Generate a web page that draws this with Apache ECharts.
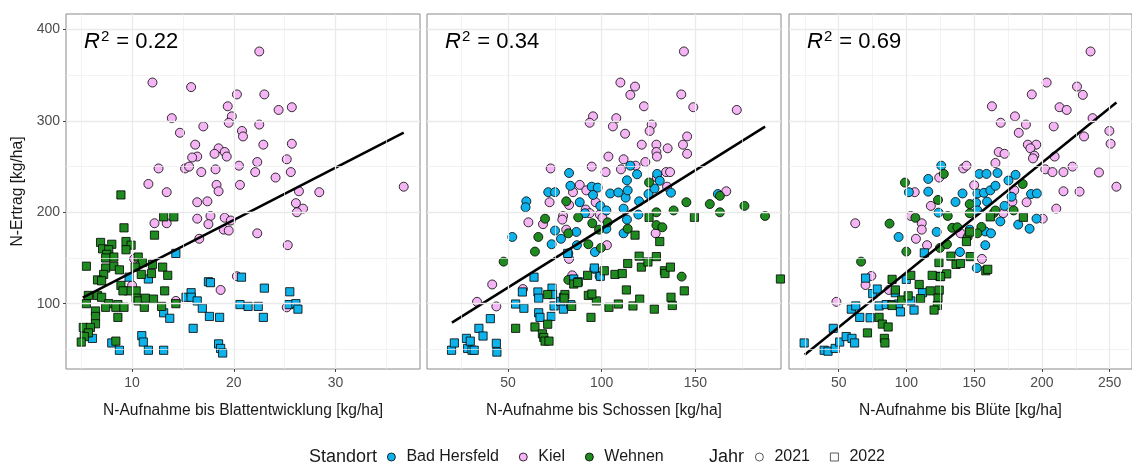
<!DOCTYPE html>
<html>
<head>
<meta charset="utf-8">
<script src="https://cdn.jsdelivr.net/npm/echarts/dist/echarts.min.js"></script>
<style>html,body{margin:0;padding:0;background:#fff;}#c{width:1132px;height:464px;}</style>
</head>
<body>
<div id="c"></div>
<script>
// ---------------- DATA ----------------
const panelTitles = ['N-Aufnahme bis Blattentwicklung [kg/ha]', 'N-Aufnahme bis Schossen [kg/ha]', 'N-Aufnahme bis Blüte [kg/ha]'];
const yTitle = 'N-Ertrag [kg/ha]';
const r2Labels = ['0.22', '0.34', '0.69'];
const sites = ['Bad Hersfeld', 'Kiel', 'Wehnen'];
const years = ['2021', '2022'];
const xTicks = [[10, 20, 30], [50, 100, 150], [50, 100, 150, 200, 250]];
const xMinor = [[5, 15, 25, 35], [25, 75, 125, 175], [25, 75, 125, 175, 225]];
const yTicks = [100, 200, 300, 400];
const yMinor = [50, 150, 250, 350];

// Panel 1: N-Aufnahme bis Blattentwicklung
const p1_kiel_2021 = [[22.5,376],[12.0,342],[15.8,337],[20.3,329],[23.0,329],[19.4,316],[25.7,315],[24.4,312],[13.9,303],[19.8,305],[19.5,298],[22.5,296],[17.0,294],[20.8,289],[20.9,283],[14.7,287],[16.2,274],[22.9,274],[25.7,275],[18.5,270],[18.1,264],[19.1,266],[19.3,261],[16.4,261],[15.9,260],[15.2,248],[15.6,250],[16.8,244],[12.6,248],[18.2,247],[20.5,251],[22.3,255],[22.1,244],[25.2,258],[25.6,244],[24.1,238],[11.6,231],[13.4,222],[18.3,230],[18.5,223],[20.6,230],[26.4,223],[28.4,222],[36.7,228],[16.4,211],[17.4,212],[26.1,210],[26.8,204],[26.2,200],[17.7,196],[19.1,194],[19.7,191],[16.4,193],[12.2,188],[13.4,188],[17.5,187],[19.0,181],[19.5,180],[22.3,177],[16.6,171],[25.3,164],[10.2,149],[10.0,120],[20.3,130],[18.7,115],[25.2,96],[14.3,103]];
const p1_bh_2022 = [[14.3,155],[9.7,129],[11.6,127],[17.5,124],[17.7,123],[20.75,129],[23.0,117],[25.5,113],[15.3,107],[15.8,112],[15.8,107],[16.4,103],[16.9,95],[20.6,99],[21.4,97],[22.4,97],[22.9,85],[25.4,99],[26.1,100],[26.3,94],[13.1,90],[13.7,84],[17.6,86],[18.6,85],[16.0,73],[6.1,62],[8.0,57],[8.75,49],[10.95,65],[11.1,58],[11.6,49],[13.1,49],[18.5,56],[18.7,51],[18.9,46]];
const p1_we_2022 = [[8.9,219],[13.1,195],[14.1,195],[9.2,183],[12.2,175],[6.9,167],[8.0,165],[9.4,168],[9.9,164],[7.1,160],[7.7,159],[9.4,159],[7.5,154],[8.2,151],[7.4,150],[10.6,151],[11.0,145],[5.5,141],[7.4,139],[8.2,141],[8.75,137],[10.3,140],[12.0,143],[13.0,140],[7.2,132],[6.6,126],[7.0,125],[10.9,132],[11.9,133],[13.5,131],[8.9,120],[9.6,114],[9.1,114],[10.4,114],[13.2,114],[5.7,109],[6.6,109],[7.0,107],[5.5,100],[7.7,100],[8.6,99],[7.4,96],[8.4,96],[9.2,96],[10.4,106],[10.6,103],[11.3,106],[11.2,96],[12.1,105],[12.9,97],[14.3,100],[6.4,92],[6.4,86],[8.6,85],[6.4,78],[5.2,74],[5.9,74],[5.7,68],[5.3,64],[5.0,58],[8.4,59]];

// Panel 2: N-Aufnahme bis Schossen
const p2_kiel_2021 = [[143.9,376],[110.0,342],[117.8,337.6],[115.3,328.5],[142.5,329],[122.6,316],[148.9,315],[172.1,312],[95.4,305],[93.6,298],[107.8,303],[106.0,294],[126.7,296],[125.6,289],[112.5,286],[145.6,283],[121.4,274],[129.2,274],[143.4,274],[135.2,270],[129.2,266],[129.5,261],[145.6,264],[103.6,261],[111.7,258],[123.3,255],[72.8,248],[94.7,250],[102.1,244],[110.3,247],[134.4,244],[136.5,244],[118.1,251],[129.5,238],[134.9,228],[166.5,223],[72.2,211],[60.9,189],[68.7,187],[79.4,196],[79.0,192],[82.6,208],[84.7,222],[88.3,230],[91.8,224],[96.8,211],[91.5,203],[93.6,199],[99.0,197.5],[100.4,194],[81.1,181],[82.6,149],[128.8,177],[102.8,164],[84.3,131],[58.0,116],[41.6,121],[33.5,102],[43.8,97]];
const p2_bh_2021 = [[82.6,243],[83.3,229],[71.5,222],[75.1,222],[59.8,212],[59.4,205.5],[52.3,173],[75.1,180],[73.3,165],[78.3,171],[86.5,178.5],[88.3,211],[91.1,199],[94.7,228],[95.4,219],[97.9,227],[99.3,207],[102.5,202],[102.5,182],[96.4,156.5],[86.8,164],[104.6,220.6],[108.9,221.7],[112.8,216],[113.9,224],[111.7,204],[113.5,192],[111.7,177],[113.5,235],[115.3,251],[118.9,241.6],[119.6,197.5],[120.0,212],[125.0,220],[128.2,226],[129.6,242],[131.0,234.5],[137.0,221.5],[162.0,220],[96.1,138],[98.9,130],[82.2,155]];
const p2_we_2021 = [[47.7,146],[64.4,157],[66.2,173],[69.8,193],[81.1,212],[82.2,177],[87.5,194.5],[92.9,165],[95.0,188],[98.6,181],[99.6,161],[103.2,189],[113.9,182],[125.3,232.6],[129.2,200],[129.2,186],[132.4,183.6],[138.4,202],[145.2,211],[157.7,209],[163.1,218],[163.1,200],[176.2,207],[187.2,196],[142.7,129.6],[82.2,126]];
const p2_bh_2022 = [[19.9,49],[21.4,57],[27.8,62],[28.5,51],[30.8,49],[32.0,49],[29.9,59],[34.5,73],[36.7,64.6],[40.6,83.6],[43.8,56.6],[44.1,47],[54.1,99.6],[57.7,112.8],[58.5,95],[63.9,129],[66.0,112.8],[66.4,106],[66.4,90],[67.1,85],[73.5,117],[73.8,110],[73.1,86],[74.6,97.5],[78.1,102.5],[79.6,107],[79.6,94],[83.5,99],[85.1,127],[81.9,155],[87.5,124],[99.3,130],[96.1,139]];
const p2_we_2022 = [[54.1,73],[64.4,74.5],[68.4,67],[69.1,63],[69.8,59],[71.9,59],[71.2,77.5],[71.2,110],[80.4,110],[84.0,97],[85.1,121.5],[87.2,123],[92.9,109],[97.2,103],[94.3,85],[92.5,131],[101.4,136],[107.1,132],[111.0,133],[103.9,96],[108.9,99.6],[113.2,115],[116.7,97.5],[120.3,105],[128.1,94],[137.0,107],[137.7,98],[144.1,114],[113.9,144],[120.0,152],[121.2,140],[124.7,145.6],[129.2,151.5],[133.5,136],[133.8,133],[136.7,140],[117.8,175],[125.3,194.5],[131.0,168],[149.5,194.5],[195.4,127],[80.0,106],[94.8,110.6]];

// Panel 3: N-Aufnahme bis Blüte
const p3_kiel_2021 = [[235.9,376],[203.5,342],[225.9,337.6],[230.2,328.5],[192.5,329],[163.1,316],[213.0,315],[218.3,312],[180.1,305],[169.6,298],[188.2,296],[208.7,294],[182.9,287],[237.4,303],[231.1,283],[249.8,289],[250.7,275],[189.6,274],[195.8,274],[191.5,270],[194.4,262],[193.4,259],[209.4,261],[168.1,266],[172.4,264],[165.7,254],[141.9,248],[144.3,251],[124.2,238],[202.5,247],[207.8,244],[215.9,244],[222.6,250],[242.1,243.6],[255.0,228],[215.9,223],[227.8,222.6],[106.1,222],[150.0,229.6],[179.6,224],[178.2,211.6],[188.7,211],[210.6,204],[200.6,193],[171.5,199],[103.2,196],[118.0,207],[111.3,188],[111.3,181],[107.0,171],[115.2,164],[140.0,177],[155.7,149],[62.2,188],[74.1,130.3],[69.8,120.4],[87.0,115],[48.3,102]];
const p3_bh_2021 = [[125.7,251],[116.1,236.5],[101.8,222],[116.1,222.6],[136.2,211.3],[123.7,199.6],[122.3,178.5],[94.2,173],[139.5,156.5],[141.4,220.6],[153.8,242],[159.1,242],[167.2,243],[152.4,220.6],[157.2,221.3],[161.9,224],[165.7,229],[175.3,234.8],[180.5,241],[172.4,207],[177.6,217],[192.0,220],[196.3,220.6],[151.4,210.4],[159.5,211.7],[152.4,202],[169.3,190],[182.5,186.5],[196.0,193],[190.9,182],[146.7,181],[158.2,179],[162.4,177],[158.2,164],[151.9,139]];
const p3_we_2021 = [[98.9,232.5],[127.6,242],[106.6,194],[87.5,187.6],[66.5,146],[99.9,157],[123.3,213.5],[130.5,196],[133.8,183],[124.7,161],[129.9,165],[146.7,209],[146.7,199],[155.3,184],[164.3,199],[165.7,202],[179.1,202],[185.8,231],[152.4,177],[145.2,173],[137.6,183.6]];
const p3_bh_2022 = [[24.5,57],[46.0,73],[39.3,49],[42.1,48],[47.4,51],[50.7,58],[55.5,64],[59.8,62],[61.7,57],[59.3,94],[62.6,97.5],[65.5,85],[73.2,84.6],[69.8,128],[75.1,111],[78.4,116],[79.8,97.5],[85.1,99],[89.4,99],[94.2,99.6],[91.8,112],[95.6,91],[99.9,126.6],[103.2,103],[105.6,93],[111.8,112],[113.2,155.6],[124.7,130]];
const p3_we_2022 = [[186.3,194.5],[161.9,195],[144.3,168],[146.7,178.5],[132.8,152],[136.6,143],[139.9,144],[147.1,151.5],[124.0,145],[129.7,132.6],[119.0,131],[125.2,129.6],[158.6,136],[160.0,137.6],[103.2,131],[109.4,121],[117.5,114],[110.4,105.5],[124.2,114.8],[123.3,106],[122.8,98],[120.4,93],[89.4,126.6],[91.8,115],[96.5,104],[101.3,108.6],[89.4,98],[79.8,85],[71.2,68],[82.2,77.6],[83.7,62],[84.1,57],[86.5,74.5]];

// regression line end points (fitted lines)
const fit1 = [[5.15,106.6],[36.7,287.2]];
const fit2 = [[20.1,79.2],[187.2,293.8]];
const fit3 = [[24.9,44.2],[255.0,320.1]];

const xRanges = [[3.5, 38.3], [6.8, 195.7], [13.3, 266.5]];
const yRange = [28.5, 417];

// ---------------- STYLE ----------------
const FONT = '"Liberation Sans", Arial, sans-serif';
const colors = {'Bad Hersfeld': '#0EB3EB', 'Kiel': '#F5B5F5', 'Wehnen': '#1F8A1F'};
const panelLeft = [66, 427, 789];
const panelW = 354, panelTop = 14, panelH = 355;

const panels = [
  {groups: [['Kiel','2021',p1_kiel_2021],['Bad Hersfeld','2022',p1_bh_2022],['Wehnen','2022',p1_we_2022]], fit: fit1},
  {groups: [['Kiel','2021',p2_kiel_2021],['Bad Hersfeld','2021',p2_bh_2021],['Wehnen','2021',p2_we_2021],['Bad Hersfeld','2022',p2_bh_2022],['Wehnen','2022',p2_we_2022]], fit: fit2},
  {groups: [['Kiel','2021',p3_kiel_2021],['Bad Hersfeld','2021',p3_bh_2021],['Wehnen','2021',p3_we_2021],['Bad Hersfeld','2022',p3_bh_2022],['Wehnen','2022',p3_we_2022]], fit: fit3}
];

const grid = [], xAxis = [], yAxis = [], series = [], title = [];
panels.forEach((p, i) => {
  grid.push({left: panelLeft[i], top: panelTop, width: panelW, height: panelH, show: true,
    backgroundColor: '#fff', borderColor: '#8a8a8a', borderWidth: 1});
  xAxis.push({type: 'value', gridIndex: i, min: xRanges[i][0], max: xRanges[i][1],
    axisLine: {show: false}, splitLine: {show: false},
    axisTick: {show: true, customValues: xTicks[i], length: 3, lineStyle: {color: '#444', width: 1}},
    axisLabel: {customValues: xTicks[i], color: '#4d4d4d', fontSize: 14, fontFamily: FONT, margin: 7},
    name: panelTitles[i], nameLocation: 'middle', nameGap: 34,
    nameTextStyle: {color: '#1a1a1a', fontSize: 15.6, fontFamily: FONT}});
  yAxis.push({type: 'value', gridIndex: i, min: yRange[0], max: yRange[1],
    axisLine: {show: false}, splitLine: {show: false},
    axisTick: {show: i === 0, customValues: yTicks, length: 3, lineStyle: {color: '#444', width: 1}},
    axisLabel: {show: i === 0, customValues: yTicks, color: '#4d4d4d', fontSize: 14, fontFamily: FONT, margin: 6},
    name: i === 0 ? yTitle : '', nameLocation: 'middle', nameGap: 40,
    nameTextStyle: {color: '#1a1a1a', fontSize: 15.6, fontFamily: FONT}});
  const gl = [];
  xMinor[i].forEach(v => gl.push({xAxis: v, lineStyle: {color: '#EEEEEE', width: 0.7, type: 'solid'}}));
  yMinor.forEach(v => gl.push({yAxis: v, lineStyle: {color: '#EEEEEE', width: 0.7, type: 'solid'}}));
  xTicks[i].forEach(v => gl.push({xAxis: v, lineStyle: {color: '#EAEAEA', width: 1.3, type: 'solid'}}));
  yTicks.forEach(v => gl.push({yAxis: v, lineStyle: {color: '#EAEAEA', width: 1.3, type: 'solid'}}));
  series.push({type: 'line', xAxisIndex: i, yAxisIndex: i, data: [], silent: true, z: 1, animation: false,
    markLine: {silent: true, symbol: ['none', 'none'], label: {show: false}, animation: false, data: gl}});
  p.groups.forEach(([site, year, data]) => {
    series.push({type: 'scatter', name: site, xAxisIndex: i, yAxisIndex: i, data: data, z: 2,
      symbol: year === '2021' ? 'circle' : 'rect', symbolSize: year === '2021' ? 9 : 8.2,
      itemStyle: {color: colors[site], borderColor: '#000', borderWidth: 0.8, opacity: 1},
      animation: false, silent: true});
  });
  series.push({type: 'line', xAxisIndex: i, yAxisIndex: i, data: p.fit, symbol: 'none', z: 3,
    lineStyle: {color: '#000', width: 2.5}, animation: false, silent: true});
  title.push({text: '{i|R}{s|2}{t| = ' + r2Labels[i] + '}', left: panelLeft[i] + 18, top: 29, padding: 0,
    textStyle: {fontWeight: 'normal', rich: {
      i: {fontFamily: FONT, fontSize: 22, fontStyle: 'italic', fontWeight: 'normal', color: '#000', lineHeight: 24, padding: [5, 0, 0, 0], verticalAlign: 'bottom'},
      s: {fontFamily: FONT, fontSize: 15, fontWeight: 'normal', color: '#000', lineHeight: 15, verticalAlign: 'top', padding: [0, 1, 0, 1]},
      t: {fontFamily: FONT, fontSize: 22, fontWeight: 'normal', color: '#000', lineHeight: 24, padding: [5, 0, 0, 0], verticalAlign: 'bottom'}
    }}});
});
years.forEach(y => series.push({type: 'scatter', name: y, data: [], xAxisIndex: 0, yAxisIndex: 0}));

const titleStyle = {fontFamily: FONT, fontSize: 18, fontWeight: 'normal', color: '#1a1a1a'};
title.push({text: 'Standort', left: 309, top: 448, padding: 0, textStyle: titleStyle});
title.push({text: 'Jahr', left: 709, top: 448, padding: 0, textStyle: titleStyle});

const squareIcon = 'path://M0,0L10,0L10,10L0,10Z';
const legendBase = {top: 449, orient: 'horizontal', selectedMode: false, itemWidth: 20, itemHeight: 8, itemGap: 20, padding: 0,
  symbolKeepAspect: true, textStyle: {fontFamily: FONT, fontSize: 16, color: '#1a1a1a'}};
const legend = [
  Object.assign({}, legendBase, {left: 387,
    data: sites.map(s => ({name: s, icon: 'circle', itemStyle: {color: colors[s], borderColor: '#000', borderWidth: 0.8}}))}),
  Object.assign({}, legendBase, {left: 755,
    data: [{name: '2021', icon: 'circle', itemStyle: {color: '#fff', borderColor: '#000', borderWidth: 0.8}},
           {name: '2022', icon: squareIcon, itemStyle: {color: '#fff', borderColor: '#000', borderWidth: 0.8}}]})
];

const chart = echarts.init(document.getElementById('c'), null, {renderer: 'canvas'});
chart.setOption({animation: false, backgroundColor: '#fff', grid, xAxis, yAxis, series, title, legend});
</script>
</body>
</html>
